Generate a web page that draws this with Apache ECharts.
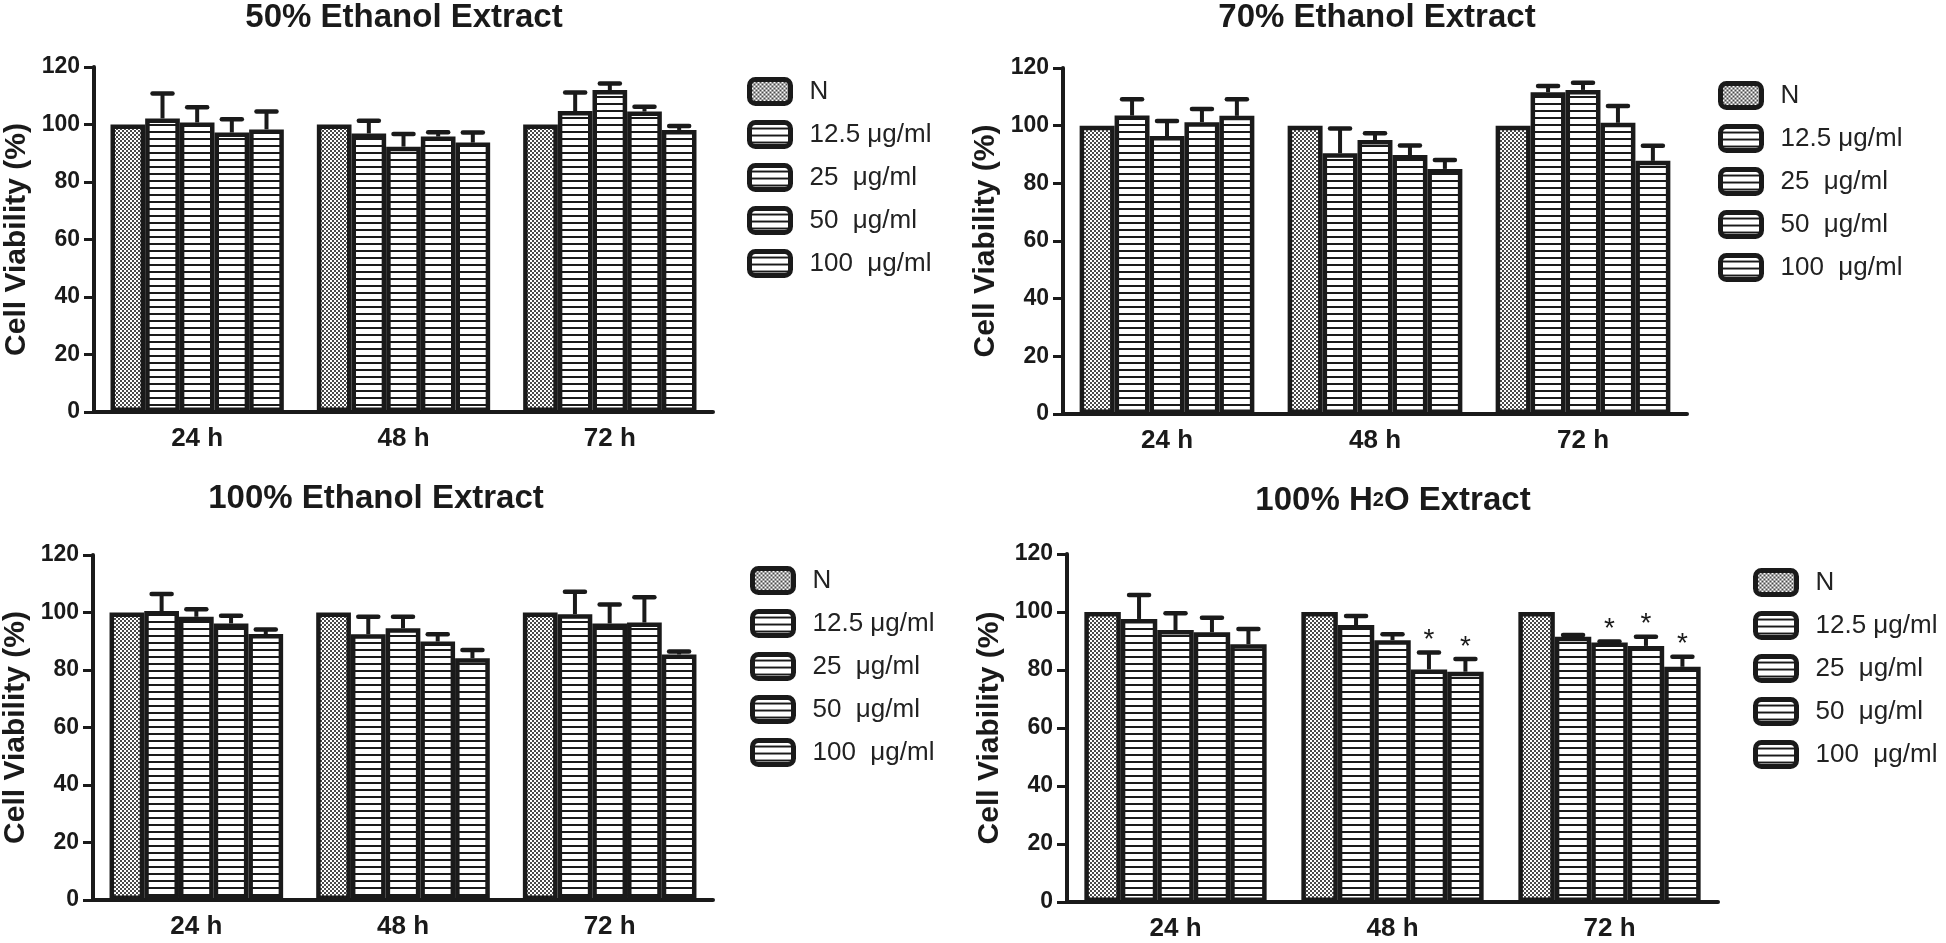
<!DOCTYPE html>
<html>
<head>
<meta charset="utf-8">
<title>Cell viability</title>
<script src="https://cdn.jsdelivr.net/npm/echarts@6/dist/echarts.min.js"></script>
<style>
  html, body { margin: 0; padding: 0; background: #ffffff; }
  #chart { width: 1946px; height: 943px; }
</style>
</head>
<body>
<div id="chart"></div>
<script>
// time points and doses
var categories = ['24 h', '48 h', '72 h'];
var doses = ['N', '12.5 μg/ml', '25  μg/ml', '50  μg/ml', '100  μg/ml'];
var yTicks = [0, 120, 20]; // min, max, step

// one row per time point, one column per dose
var eth50Mean = [[100, 102.1, 100.7, 97.2, 98.3], [100, 96.9, 92.3, 95.8, 93.7], [100, 104.7, 112.0, 104.5, 98.1]];
var eth50Err  = [[0, 8.7, 5.3, 4.6, 6.2], [0, 4.4, 4.4, 1.5, 3.5], [0, 6.4, 2.3, 1.7, 1.4]];

var eth70Mean = [[100, 103.5, 96.4, 101.2, 103.4], [100, 90.4, 95.0, 89.8, 85.0], [100, 111.6, 112.4, 101.0, 87.8]];
var eth70Err  = [[0, 5.7, 5.2, 4.6, 5.8], [0, 8.6, 2.4, 3.3, 3.1], [0, 2.2, 2.5, 5.8, 5.2]];

var eth100Mean = [[100, 100.5, 98.5, 96.2, 92.5], [100, 92.4, 94.5, 89.9, 84.1], [100, 99.4, 96.2, 96.5, 85.4]];
var eth100Err  = [[0, 5.9, 2.6, 2.7, 1.6], [0, 6.1, 4.0, 2.5, 2.9], [0, 7.8, 6.6, 8.8, 1.0]];

var h2oMean = [[100, 97.6, 93.8, 93.0, 88.9], [100, 95.5, 90.3, 80.2, 79.4], [100, 91.5, 89.5, 88.3, 81.1]];
var h2oErr  = [[0, 8.3, 5.8, 5.0, 5.2], [0, 3.1, 2.0, 5.8, 4.4], [0, 0.6, 0.3, 3.2, 3.5]];
var h2oStars = [[0, 0, 0, 0, 0], [0, 0, 0, 1, 1], [0, 0, 1, 1, 1]];

var ink = '#1a1a1a';
var font = '"Liberation Sans", Arial, sans-serif';
var catGap = 0.16;

// fill patterns
function checker() {
    var c = document.createElement('canvas');
    c.width = 4; c.height = 4;
    var g = c.getContext('2d');
    g.fillStyle = '#ffffff'; g.fillRect(0, 0, 4, 4);
    g.fillStyle = '#4a4a4a';
    g.fillRect(0, 0, 2, 2); g.fillRect(2, 2, 2, 2);
    return c;
}
function stripes() {
    var c = document.createElement('canvas');
    c.width = 8; c.height = 7;
    var g = c.getContext('2d');
    g.fillStyle = '#ffffff'; g.fillRect(0, 0, 8, 7);
    g.fillStyle = ink; g.fillRect(0, 5, 8, 2);
    return c;
}
var fills = [{image: checker(), repeat: 'repeat'}];
for (var f = 1; f < doses.length; f++) fills.push({image: stripes(), repeat: 'repeat'});

var panels = [
    {title: '50% Ethanol Extract', tx: 404, ty: 1, mean: eth50Mean, err: eth50Err, stars: null,
     grid: {left: 94, top: 67, width: 619, height: 345}, legend: {left: 747, top: 77}},
    {title: '70% Ethanol Extract', tx: 1377, ty: 1, mean: eth70Mean, err: eth70Err, stars: null,
     grid: {left: 1063, top: 68, width: 624, height: 346}, legend: {left: 1718, top: 81}},
    {title: '100% Ethanol Extract', tx: 376, ty: 482, mean: eth100Mean, err: eth100Err, stars: null,
     grid: {left: 93, top: 555, width: 620, height: 345}, legend: {left: 750, top: 566}},
    {title: '100% H{sub|2}O Extract', tx: 1393, ty: 484, mean: h2oMean, err: h2oErr, stars: h2oStars,
     grid: {left: 1067, top: 554, width: 651, height: 348}, legend: {left: 1753, top: 568}}
];

function renderErr(params, api) {
    var cat = api.value(0), k = api.value(1), mean = api.value(2), err = api.value(3), star = api.value(4);
    var band = api.size([1, 0])[0];
    var barW = band * (1 - catGap) / doses.length;
    var x = api.coord([cat, 0])[0] + (k - (doses.length - 1) / 2) * barW;
    var yTop = api.coord([cat, mean])[1];
    var yCap = api.coord([cat, mean + err])[1];
    var children = [];
    if (err > 0) {
        children.push({type: 'line', shape: {x1: x, y1: yTop, x2: x, y2: yCap},
            style: {stroke: ink, lineWidth: 4}});
        children.push({type: 'line', shape: {x1: x - 10, y1: yCap, x2: x + 10, y2: yCap},
            style: {stroke: ink, lineWidth: 4.5, lineCap: 'round'}});
    }
    if (star) {
        children.push({type: 'text', style: {text: '*', x: x, y: yCap - 12,
            align: 'center', verticalAlign: 'middle', textAlign: 'center', textVerticalAlign: 'middle',
            font: '28px ' + font, fill: ink}});
    }
    return {type: 'group', children: children};
}

var option = {
    animation: false,
    backgroundColor: '#ffffff',
    title: [], grid: [], xAxis: [], yAxis: [], legend: [], series: []
};

panels.forEach(function (p, i) {
    option.title.push({
        text: p.title, left: p.tx, top: p.ty, textAlign: 'center', padding: 0,
        textStyle: {fontFamily: font, fontSize: 33, fontWeight: 'bold', color: ink,
            rich: {sub: {fontFamily: font, fontSize: 20, fontWeight: 'bold', color: ink}}}
    });
    option.grid.push(p.grid);
    option.xAxis.push({
        type: 'category', gridIndex: i, data: categories,
        axisLine: {lineStyle: {color: ink, width: 4}},
        axisTick: {alignWithLabel: true, length: 8, lineStyle: {color: ink, width: 3}},
        axisLabel: {color: ink, fontFamily: font, fontSize: 26, fontWeight: 'bold', margin: 14},
        splitLine: {show: false}
    });
    option.yAxis.push({
        type: 'value', gridIndex: i, min: yTicks[0], max: yTicks[1], interval: yTicks[2],
        name: 'Cell Viability (%)', nameLocation: 'middle', nameGap: 62,
        nameTextStyle: {color: ink, fontFamily: font, fontSize: 30, fontWeight: 'bold'},
        axisLine: {show: true, lineStyle: {color: ink, width: 4}},
        axisTick: {show: true, length: 10, lineStyle: {color: ink, width: 3}},
        axisLabel: {color: ink, fontFamily: font, fontSize: 23, fontWeight: 'bold', margin: 14},
        splitLine: {show: false}
    });
    option.legend.push({
        orient: 'vertical', left: p.legend.left, top: p.legend.top, padding: 0,
        data: doses, icon: 'roundRect', itemWidth: 41, itemHeight: 24, itemGap: 14,
        selectedMode: false,
        itemStyle: {borderColor: ink, borderWidth: 5},
        textStyle: {color: '#222222', fontFamily: font, fontSize: 26, padding: [0, 0, 0, 14]}
    });
    doses.forEach(function (d, k) {
        option.series.push({
            type: 'bar', name: d, xAxisIndex: i, yAxisIndex: i,
            barGap: '0%', barCategoryGap: (catGap * 100) + '%',
            data: p.mean.map(function (row) { return row[k]; }),
            itemStyle: {color: fills[k], borderColor: ink, borderWidth: 4.5},
            emphasis: {disabled: true}
        });
    });
    var errData = [];
    p.mean.forEach(function (row, c) {
        row.forEach(function (m, k) {
            errData.push([c, k, m, p.err[c][k], p.stars ? p.stars[c][k] : 0]);
        });
    });
    option.series.push({
        type: 'custom', xAxisIndex: i, yAxisIndex: i, z: 5, silent: true,
        renderItem: renderErr, encode: {x: 0, y: 2}, data: errData
    });
});

var chart = echarts.init(document.getElementById('chart'));
chart.setOption(option);
</script>
</body>
</html>
